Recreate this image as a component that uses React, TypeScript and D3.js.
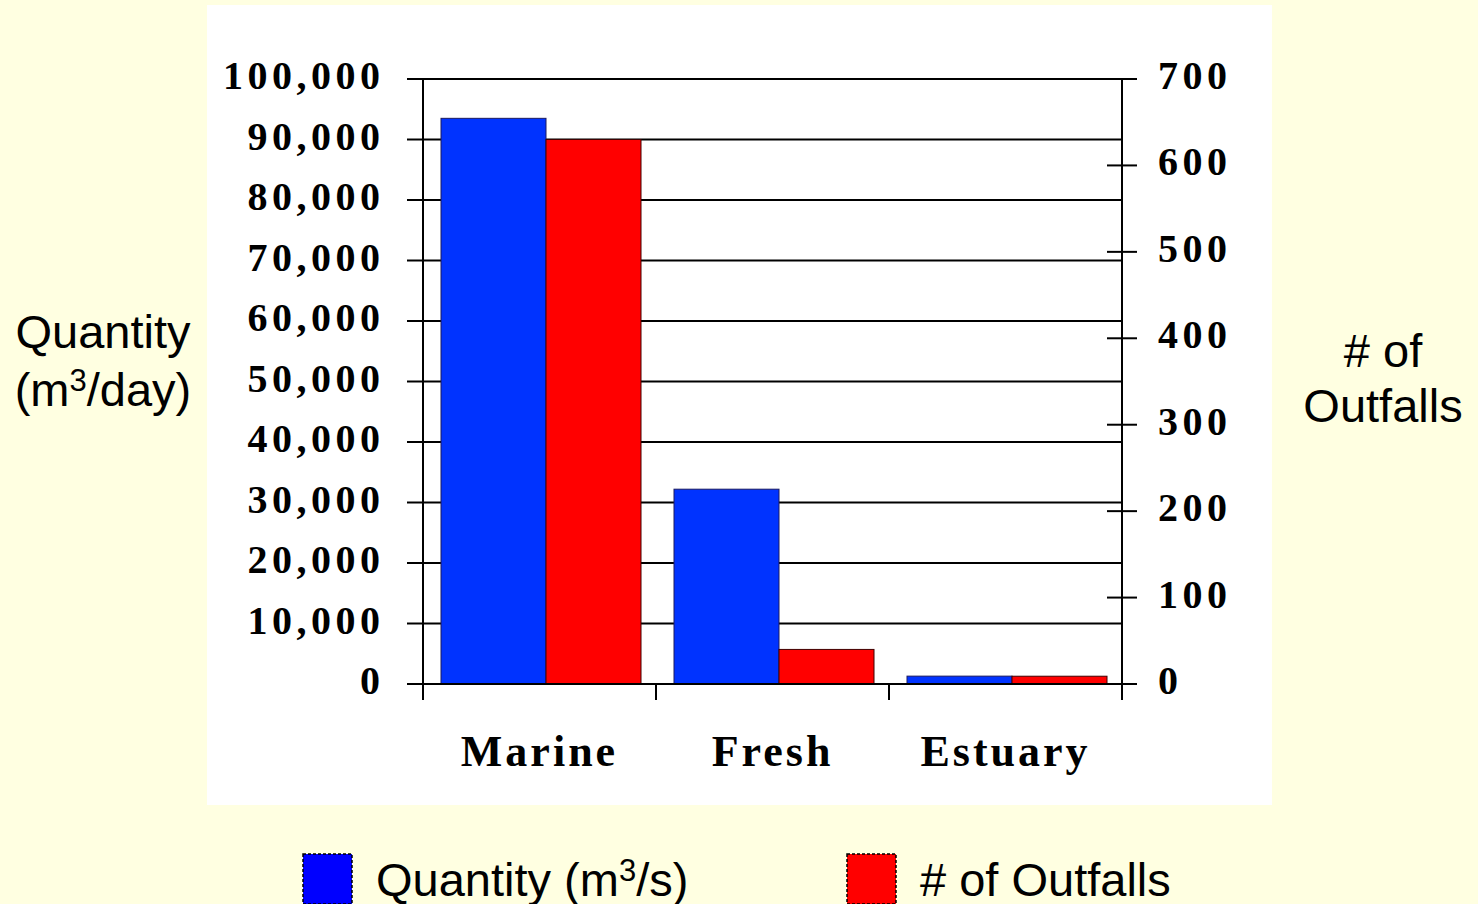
import React from "react";
import * as d3 from "d3";

const categories = ["Marine", "Fresh", "Estuary"];
const quantity = [93500, 32200, 1300];
const outfalls = [630, 40, 9];
const leftTicks = [0, 10000, 20000, 30000, 40000, 50000, 60000, 70000, 80000, 90000, 100000];
const rightTicks = [0, 100, 200, 300, 400, 500, 600, 700];
// legend labels: [before superscript, superscript, after superscript]
const seriesNames: [string, string, string][] = [
  ["Quantity (m", "3", "/s)"],
  ["# of Outfalls", "", ""],
];
const leftTitle: [string, string, string, string] = ["Quantity", "(m", "3", "/day)"];
const rightTitle = ["# of", "Outfalls"];
const seriesColors = ["#0033FF", "#FF0000"];
const legendColors = ["#0000FF", "#FF0000"];

const W = 1478;
const H = 904;
const serif = "'Liberation Serif', 'Times New Roman', serif";
const sans = "'Liberation Sans', Arial, sans-serif";

function SupText({ a, s, b }: { a: string; s: string; b: string }) {
  if (!s) return <tspan>{a}</tspan>;
  return (
    <>
      <tspan>{a}</tspan>
      <tspan fontSize={31} dy={-15}>
        {s}
      </tspan>
      <tspan dy={15}>{b}</tspan>
    </>
  );
}

export default function App() {
  const left = 423;
  const right = 1122;
  const top = 79;
  const bottom = 684;

  const yL = d3.scaleLinear().domain([0, 100000]).range([bottom, top]);
  const yR = d3.scaleLinear().domain([0, 700]).range([bottom, top]);
  const x0 = d3.scaleBand<string>().domain(categories).range([left, right]).padding(0);
  const bw = x0.bandwidth();
  // position within a category group: 0 = group start, 1 = group end
  const x1 = d3.scaleLinear().domain([0, 1]).range([18, bw - 15]);
  const split = 0.525;
  const fmt = d3.format(",");

  const ls = 4.5;

  return (
    <svg width={W} height={H} style={{ position: "absolute", left: 0, top: 0 }}>
      <rect x={0} y={0} width={W} height={H} fill="#FFFFE1" />
      <rect x={207} y={5} width={1065} height={800} fill="#FFFFFF" />

      {/* gridlines */}
      {leftTicks.map((t) => (
        <line key={"g" + t} x1={left} x2={right} y1={yL(t)} y2={yL(t)} stroke="#000" strokeWidth={2} />
      ))}
      {/* left ticks */}
      {leftTicks.map((t) => (
        <line key={"lt" + t} x1={407} x2={left} y1={yL(t)} y2={yL(t)} stroke="#000" strokeWidth={2} />
      ))}
      {/* right ticks */}
      {rightTicks.map((t) => (
        <line key={"rt" + t} x1={right - 15} x2={right + 15} y1={yR(t)} y2={yR(t)} stroke="#000" strokeWidth={2} />
      ))}

      {/* bars */}
      {categories.map((c, i) => {
        const gx = x0(c)!;
        return (
          <g key={c}>
            <rect
              x={gx + x1(0)}
              y={yL(quantity[i])}
              width={x1(split) - x1(0)}
              height={bottom - yL(quantity[i])}
              fill={seriesColors[0]}
              stroke="#1a1a60"
              strokeWidth={1}
            />
            <rect
              x={gx + x1(split)}
              y={yR(outfalls[i])}
              width={x1(1) - x1(split)}
              height={bottom - yR(outfalls[i])}
              fill={seriesColors[1]}
              stroke="#400000"
              strokeWidth={1}
            />
          </g>
        );
      })}

      {/* axes lines */}
      <line x1={left} x2={left} y1={top} y2={700} stroke="#000" strokeWidth={2} />
      <line x1={right} x2={right} y1={top} y2={700} stroke="#000" strokeWidth={2} />
      <line x1={407} x2={right + 15} y1={bottom} y2={bottom} stroke="#000" strokeWidth={2} />
      {categories.map((c) => (
        <line key={"ct" + c} x1={x0(c)!} x2={x0(c)!} y1={bottom} y2={700} stroke="#000" strokeWidth={2} />
      ))}

      {/* left tick labels */}
      {leftTicks.map((t) => (
        <text
          key={"ll" + t}
          x={380 + ls}
          y={yL(t) + 10}
          textAnchor="end"
          fontFamily={serif}
          fontWeight="bold"
          fontSize={40}
          letterSpacing={ls}
          fill="#000"
        >
          {fmt(t)}
        </text>
      ))}
      {/* right tick labels */}
      {rightTicks.map((t) => (
        <text
          key={"rl" + t}
          x={1158}
          y={yR(t) + 10}
          textAnchor="start"
          fontFamily={serif}
          fontWeight="bold"
          fontSize={40}
          letterSpacing={ls}
          fill="#000"
        >
          {t}
        </text>
      ))}

      {/* category labels */}
      {categories.map((c) => (
        <text
          key={"cl" + c}
          x={x0(c)! + bw / 2}
          y={766}
          textAnchor="middle"
          fontFamily={serif}
          fontWeight="bold"
          fontSize={44}
          letterSpacing={3}
          fill="#000"
        >
          {c}
        </text>
      ))}

      {/* axis titles */}
      <text x={103} y={348} textAnchor="middle" fontFamily={sans} fontSize={47} fill="#000">
        {leftTitle[0]}
      </text>
      <text x={103} y={406} textAnchor="middle" fontFamily={sans} fontSize={47} fill="#000">
        <SupText a={leftTitle[1]} s={leftTitle[2]} b={leftTitle[3]} />
      </text>
      <text x={1383} y={367} textAnchor="middle" fontFamily={sans} fontSize={47} fill="#000">
        {rightTitle[0]}
      </text>
      <text x={1383} y={422} textAnchor="middle" fontFamily={sans} fontSize={47} fill="#000">
        {rightTitle[1]}
      </text>

      {/* legend */}
      {seriesNames.map((s, i) => {
        const lx = i === 0 ? 303 : 847;
        return (
          <g key={"lg" + i}>
            <rect
              x={lx}
              y={854}
              width={49}
              height={50}
              fill={legendColors[i]}
              stroke="#000"
              strokeWidth={1.5}
              strokeDasharray="3,2"
            />
            <text x={lx + 73} y={896} fontFamily={sans} fontSize={47} fill="#000">
              <SupText a={s[0]} s={s[1]} b={s[2]} />
            </text>
          </g>
        );
      })}
    </svg>
  );
}
